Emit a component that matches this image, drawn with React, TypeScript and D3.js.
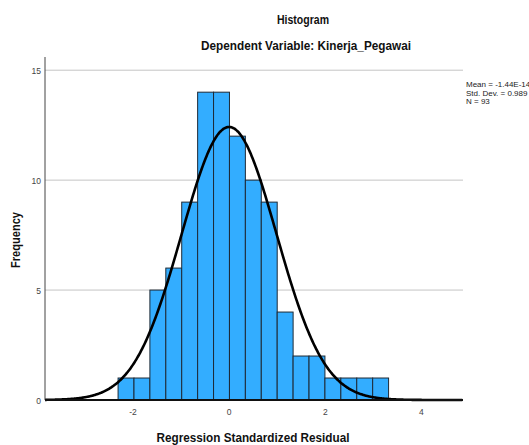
import React from 'react';
import * as d3 from 'd3';

// histogram counts, one per bin (left to right)
const counts = [1, 1, 5, 6, 9, 14, 14, 12, 10, 9, 4, 2, 2, 1, 1, 1, 1];
const binStart = -2.31;
const binWidth = 0.331;

// fitted normal stats (from the legend)
const mean = -1.44e-14;
const stdDev = 0.989;
const n = 93;
const legendLines = ['Mean = -1.44E-14', 'Std. Dev. = 0.989', 'N = 93'];

const xTicks = [-2, 0, 2, 4];
const yTicks = [0, 5, 10, 15];

const W = 529, H = 445;
const margin = { left: 45, right: 66, top: 57, bottom: 45 };

const App = () => {
  const x = d3.scaleLinear().domain([-3.83, 4.865]).range([margin.left, W - margin.right]);
  const y = d3.scaleLinear().domain([0, 15.6]).range([H - margin.bottom, margin.top]);

  const bins = counts.map((c, i) => ({ x0: binStart + i * binWidth, x1: binStart + (i + 1) * binWidth, c }));

  // normal curve scaled to counts
  const pdf = (v: number) => Math.exp(-0.5 * ((v - mean) / stdDev) ** 2) / (stdDev * Math.sqrt(2 * Math.PI));
  const curvePts = d3.range(-3.83, 4.866, 0.02).map(v => [v, n * binWidth * pdf(v)] as [number, number]);
  const line = d3.line<[number, number]>().x(d => x(d[0])).y(d => y(d[1])).curve(d3.curveBasis);

  const font = '"Liberation Sans", Arial, sans-serif';
  const [x0, x1] = x.range();

  return (
    <svg width={W} height={H} style={{ position: 'absolute', left: 0, top: 0, fontFamily: font }}>
      <rect width={W} height={H} fill="#fff" />

      {/* titles */}
      <text x={303} y={23.5} textAnchor="middle" fontSize={12.5} fontWeight="bold" fill="#111"
        textLength={52} lengthAdjust="spacingAndGlyphs">Histogram</text>
      <text x={306} y={50} textAnchor="middle" fontSize={13} fontWeight="bold" fill="#111"
        textLength={210} lengthAdjust="spacingAndGlyphs">Dependent Variable: Kinerja_Pegawai</text>

      {/* gridlines */}
      {yTicks.filter(t => t > 0).map(t => (
        <line key={t} x1={x0} x2={x1} y1={y(t)} y2={y(t)} stroke="#c4c4c4" strokeWidth={1} />
      ))}

      {/* bars */}
      {bins.map((b, i) => (
        <rect key={i} x={x(b.x0)} y={y(b.c)} width={x(b.x1) - x(b.x0)} height={y(0) - y(b.c)}
          fill="#33adff" stroke="#1e2a36" strokeWidth={1} />
      ))}

      {/* normal curve */}
      <path d={line(curvePts) ?? ''} fill="none" stroke="#000" strokeWidth={2.6} />

      {/* axes */}
      <line x1={x0} x2={x0} y1={margin.top} y2={y(0)} stroke="#444" strokeWidth={1} />
      <line x1={x0} x2={x1} y1={y(0)} y2={y(0)} stroke="#111" strokeWidth={2} />

      {yTicks.map(t => (
        <text key={t} x={41} y={y(t) + 3.5} textAnchor="end" fontSize={8.5} fill="#444">{t}</text>
      ))}
      {xTicks.map(t => (
        <text key={t} x={x(t)} y={415} textAnchor="middle" fontSize={8.5} fill="#444">{t}</text>
      ))}

      {/* axis titles */}
      <text x={253} y={442} textAnchor="middle" fontSize={13} fontWeight="bold" fill="#111"
        textLength={193} lengthAdjust="spacingAndGlyphs">Regression Standardized Residual</text>
      <text transform={`translate(20,240) rotate(-90)`} textAnchor="middle" fontSize={12.5} fontWeight="bold" fill="#111"
        textLength={56} lengthAdjust="spacingAndGlyphs">Frequency</text>

      {/* legend */}
      {legendLines.map((s, i) => (
        <text key={i} x={466} y={87 + i * 8.5} fontSize={8} fill="#222">{s}</text>
      ))}
    </svg>
  );
};

export default App;
